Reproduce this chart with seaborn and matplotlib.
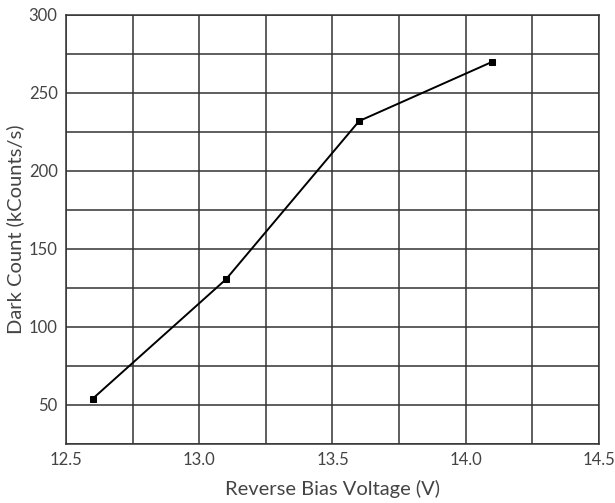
import numpy as np
import pandas as pd
import seaborn as sns
import matplotlib.pyplot as plt
from matplotlib.ticker import MultipleLocator

# data
voltage = [12.6, 13.1, 13.6, 14.1]
dark_count = [54, 130.5, 232, 270]

df = pd.DataFrame({"Reverse Bias Voltage (V)": voltage,
                   "Dark Count (kCounts/s)": dark_count})

sns.set_style("white")
plt.rcParams['font.family'] = ['Lato', 'DejaVu Sans']

fig = plt.figure(figsize=(6.15, 5.03), dpi=100)
ax = fig.add_axes([0.1073, 0.1173, 0.8667, 0.853])

sns.lineplot(data=df, x="Reverse Bias Voltage (V)", y="Dark Count (kCounts/s)",
             ax=ax, color="black", linewidth=1.4, marker="s", markersize=4.5,
             markeredgecolor="black", markerfacecolor="black")

ax.set_xlim(12.5, 14.5)
ax.set_ylim(25, 300)
ax.xaxis.set_major_locator(MultipleLocator(0.5))
ax.xaxis.set_minor_locator(MultipleLocator(0.25))
ax.set_yticks([50, 100, 150, 200, 250, 300])
ax.yaxis.set_minor_locator(MultipleLocator(25))
ax.xaxis.set_major_formatter(plt.FormatStrFormatter('%.1f'))

ax.grid(which="both", color="#333333", linewidth=1.1)
ax.set_axisbelow(True)
for s in ax.spines.values():
    s.set_color("#333333")
    s.set_linewidth(1.1)

ax.tick_params(which="both", length=0, labelsize=12, colors="#444444", pad=6)
ax.set_xlabel("Reverse Bias Voltage (V)", fontsize=14.5, color="#444444", labelpad=8)
ax.set_ylabel("Dark Count (kCounts/s)", fontsize=14.5, color="#444444", labelpad=3)

fig.savefig("out.png", dpi=100)
